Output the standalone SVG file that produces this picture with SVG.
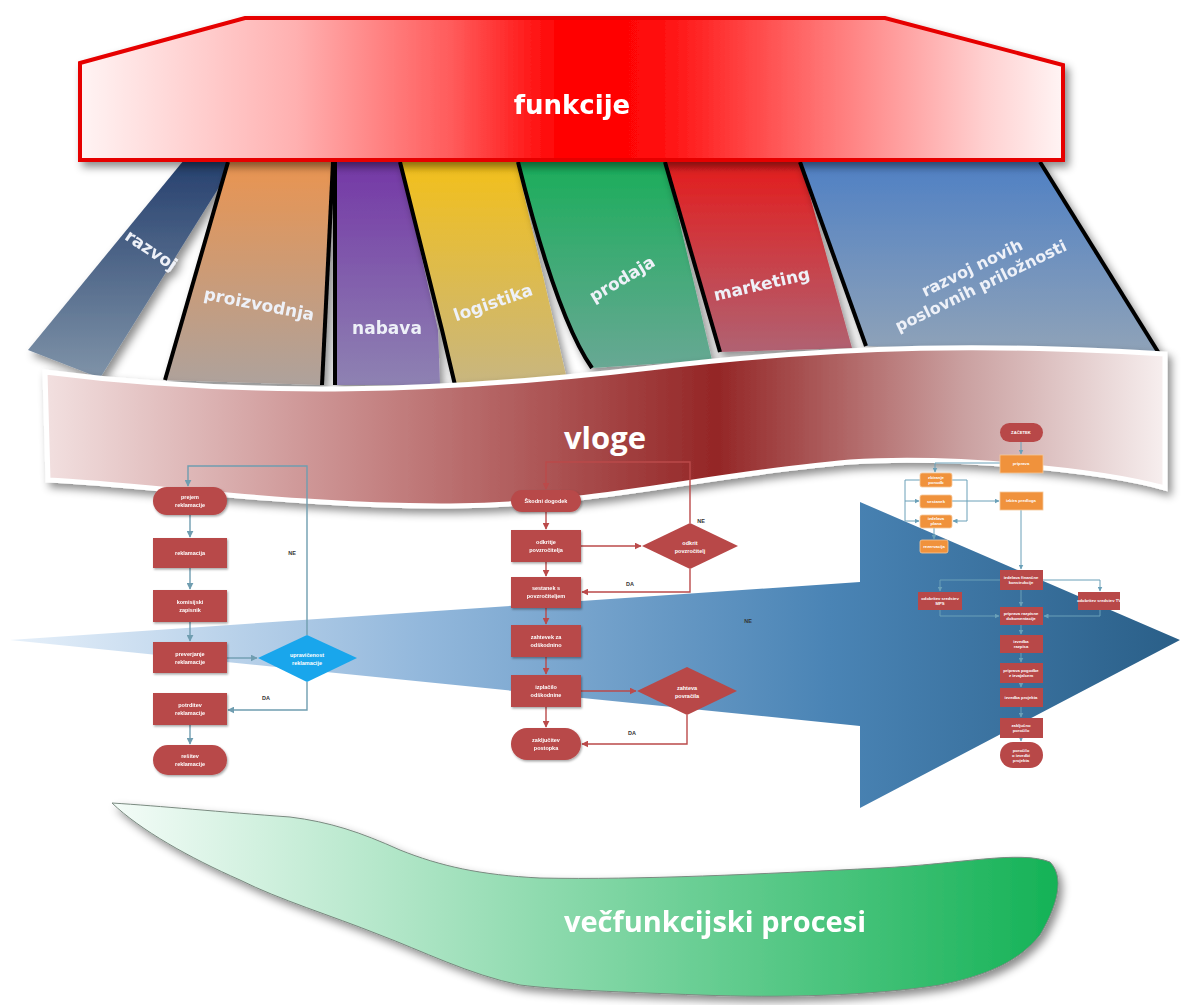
<svg xmlns="http://www.w3.org/2000/svg" width="1185" height="1005" viewBox="0 0 1185 1005">
<style>
.lbl{font-family:"DejaVu Sans",Verdana,sans-serif;font-weight:bold;fill:#eef1f8}
.big{font-family:"Open Sans","DejaVu Sans",sans-serif;font-weight:bold;fill:#fff;text-anchor:middle}
.edge{fill:none;stroke:#000;stroke-width:4;stroke-linejoin:round}
.mr{fill:#b84848}
.or{fill:#f0923c;stroke:#f6c89a;stroke-width:0.8}
.bl{fill:#19a6ec}
.ft{font-family:"Liberation Sans",Arial,sans-serif;font-weight:bold;font-size:5.5px;fill:#fff;text-anchor:middle}
.fs{font-family:"Liberation Sans",Arial,sans-serif;font-weight:bold;font-size:4.2px;fill:#fff;text-anchor:middle}
.lt{font-family:"Liberation Sans",Arial,sans-serif;font-weight:bold;font-size:5.5px;fill:#333}
.ct{fill:none;stroke:#6f9db0;stroke-width:1.4}
.cm{fill:none;stroke:#bb4a4a;stroke-width:1.4}
.cr{fill:none;stroke:#6aa0b8;stroke-width:1}
</style>
<defs>
<filter id="sh" x="-10%" y="-10%" width="130%" height="140%"><feDropShadow dx="4" dy="5" stdDeviation="4" flood-color="#000" flood-opacity="0.45"/></filter>
<filter id="sh2" x="-10%" y="-10%" width="130%" height="140%"><feDropShadow dx="1" dy="1.5" stdDeviation="1" flood-color="#000" flood-opacity="0.35"/></filter>
<linearGradient id="gFunk" x1="80" y1="0" x2="1063" y2="0" gradientUnits="userSpaceOnUse"><stop offset="0" stop-color="#fff4f4"/><stop offset="0.22" stop-color="#ffb0b0"/><stop offset="0.38" stop-color="#ff5a5a"/><stop offset="0.49" stop-color="#ff0000"/><stop offset="0.58" stop-color="#ff0808"/><stop offset="0.75" stop-color="#ff7070"/><stop offset="0.92" stop-color="#ffd0d0"/><stop offset="1" stop-color="#fff4f4"/></linearGradient>
<linearGradient id="c1" x1="0" y1="0" x2="0" y2="1"><stop offset="0" stop-color="#26406e"/><stop offset="1" stop-color="#7f93a8"/></linearGradient>
<linearGradient id="c2" x1="0" y1="0" x2="0" y2="1"><stop offset="0" stop-color="#ea9450"/><stop offset="1" stop-color="#aea29c"/></linearGradient>
<linearGradient id="c3" x1="0" y1="0" x2="0" y2="1"><stop offset="0" stop-color="#7437a6"/><stop offset="1" stop-color="#8e82b2"/></linearGradient>
<linearGradient id="c4" x1="0" y1="0" x2="0" y2="1"><stop offset="0" stop-color="#f3c01a"/><stop offset="1" stop-color="#c8b680"/></linearGradient>
<linearGradient id="c5" x1="0" y1="0" x2="0" y2="1"><stop offset="0" stop-color="#1aad5a"/><stop offset="1" stop-color="#68a894"/></linearGradient>
<linearGradient id="c6" x1="0" y1="0" x2="0" y2="1"><stop offset="0" stop-color="#e41c1c"/><stop offset="1" stop-color="#b06272"/></linearGradient>
<linearGradient id="c7" x1="0" y1="0" x2="0" y2="1"><stop offset="0" stop-color="#4f80c4"/><stop offset="1" stop-color="#90a3b8"/></linearGradient>
<linearGradient id="gVl" x1="45" y1="0" x2="1165" y2="0" gradientUnits="userSpaceOnUse"><stop offset="0" stop-color="#f2e0e0"/><stop offset="0.3" stop-color="#c48282"/><stop offset="0.6" stop-color="#942626"/><stop offset="0.82" stop-color="#caa0a0"/><stop offset="1" stop-color="#f7efef"/></linearGradient>
<linearGradient id="gAr" x1="10" y1="0" x2="1180" y2="0" gradientUnits="userSpaceOnUse"><stop offset="0" stop-color="#e6f0fa"/><stop offset="0.35" stop-color="#93b8dc"/><stop offset="0.7" stop-color="#4a84b5"/><stop offset="1" stop-color="#2a5f88"/></linearGradient>
<linearGradient id="gGr" x1="112" y1="0" x2="1060" y2="0" gradientUnits="userSpaceOnUse"><stop offset="0" stop-color="#f4fcf8"/><stop offset="1" stop-color="#14b256"/></linearGradient>
<marker id="mT" viewBox="0 0 10 10" refX="9" refY="5" markerWidth="5" markerHeight="5" orient="auto"><path d="M0,0 L10,5 L0,10 z" fill="#6f9db0"/></marker>
<marker id="mR" viewBox="0 0 10 10" refX="9" refY="5" markerWidth="5" markerHeight="5" orient="auto"><path d="M0,0 L10,5 L0,10 z" fill="#bb4a4a"/></marker>
<marker id="mB" viewBox="0 0 10 10" refX="9" refY="5" markerWidth="5" markerHeight="5" orient="auto"><path d="M0,0 L10,5 L0,10 z" fill="#6aa0b8"/></marker>
</defs>
<rect width="1185" height="1005" fill="#fff"/>

<!-- function columns -->
<g id="col-razvoj" filter="url(#sh)">
<polygon points="184,160 236,160 100,378 28,350" fill="url(#c1)"/>
<text class="lbl" font-size="17" transform="translate(148,255) rotate(34)" text-anchor="middle">razvoj</text>
</g>
<g id="col-proizvodnja" filter="url(#sh)">
<polygon points="228,160 333,160 322,385 165,380" fill="url(#c2)"/>
<polyline class="edge" points="228,162 165,380"/>
<polyline class="edge" points="333,162 322,385"/>
<text class="lbl" font-size="17" transform="translate(258,310) rotate(11)" text-anchor="middle">proizvodnja</text>
</g>
<g id="col-nabava" filter="url(#sh)">
<polygon points="335,160 400,160 438,330 440,385 335,385" fill="url(#c3)"/>
<polyline class="edge" points="335,162 335,385"/>
<text class="lbl" font-size="17" x="387" y="334" text-anchor="middle" fill="#efeaf8">nabava</text>
</g>
<g id="col-logistika" filter="url(#sh)">
<polygon points="400,160 516,160 566,375 455,385 442,330" fill="url(#c4)"/>
<polyline class="edge" points="400,162 442,330 455,385"/>
<text class="lbl" font-size="17" transform="translate(495,308) rotate(-19)" text-anchor="middle">logistika</text>
</g>
<g id="col-prodaja" filter="url(#sh)">
<path d="M516,160 L665,160 L712,360 L592,368 C565,330 540,250 516,160 Z" fill="url(#c5)"/>
<path class="edge" d="M518,162 C540,250 565,330 592,368"/>
<text class="lbl" font-size="17" transform="translate(625,284) rotate(-31)" text-anchor="middle">prodaja</text>
</g>
<g id="col-marketing" filter="url(#sh)">
<polygon points="665,160 800,160 852,348 720,352" fill="url(#c6)"/>
<polyline class="edge" points="665,162 720,352"/>
<text class="lbl" font-size="17" transform="translate(763,290) rotate(-13)" text-anchor="middle">marketing</text>
</g>
<g id="col-razvoj-novih" filter="url(#sh)">
<polygon points="800,160 1040,160 1160,355 866,346" fill="url(#c7)"/>
<polyline class="edge" points="800,162 866,346"/>
<polyline class="edge" points="1040,162 1160,355"/>
<text class="lbl" font-size="16" transform="translate(978,280) rotate(-26)" text-anchor="middle"><tspan x="0" y="-8">razvoj novih</tspan><tspan x="0" y="12">poslovnih priložnosti</tspan></text>
</g>

<!-- funkcije -->
<g id="funkcije" filter="url(#sh)">
<polygon points="80,63 245,18 885,18 1063,65 1063,160 80,160" fill="url(#gFunk)" stroke="#e60000" stroke-width="4" stroke-linejoin="miter"/>
<text x="572" y="114" font-family="'DejaVu Sans',Verdana,sans-serif" font-weight="bold" font-size="26" fill="#fff" text-anchor="middle">funkcije</text>
</g>

<!-- vloge -->
<g id="vloge">
<path filter="url(#sh)" d="M45,372 C250,398 450,392 650,368 C850,344 1000,344 1165,354 L1165,488 C1100,470 950,455 850,462 C700,475 600,505 450,506 C300,507 150,485 48,480 Z" fill="url(#gVl)" stroke="#fff" stroke-width="5"/>
<text class="big" x="605" y="449" font-size="31">vloge</text>
</g>

<!-- process arrow -->
<g id="arrow">
<polygon points="10,640 860,582 860,502 1180,640 860,808 860,726" fill="url(#gAr)"/>
</g>

<!-- green -->
<g id="vecfunkcijski" filter="url(#sh)">
<path d="M112,803 C160,806 220,812 290,817 C330,822 360,832 400,850 C440,866 480,875 540,878 C640,880 760,874 880,868 C960,864 1020,850 1050,862 C1068,880 1052,915 1040,935 C1020,960 990,975 940,985 C870,996 780,998 700,995 C620,992 560,990 520,985 C470,975 420,950 380,935 C330,915 280,900 240,880 C190,858 140,830 112,803 Z" fill="url(#gGr)" stroke="#7a8a80" stroke-width="1"/>
<text class="big" x="715" y="932" font-size="29">večfunkcijski procesi</text>
</g>

<!-- connectors -->
<g id="connectors">
<path class="ct" d="M190,515 V537" marker-end="url(#mT)"/>
<path class="ct" d="M190,568 V589" marker-end="url(#mT)"/>
<path class="ct" d="M190,622 V641" marker-end="url(#mT)"/>
<path class="ct" d="M190,725 V744" marker-end="url(#mT)"/>
<path class="ct" d="M227,658 H257" marker-end="url(#mT)"/>
<path class="ct" d="M307,635 V466 H188 V486" marker-end="url(#mT)"/>
<path class="ct" d="M307,682 V710 H228" marker-end="url(#mT)"/>

<path class="cm" d="M546,512 V529" marker-end="url(#mR)"/>
<path class="cm" d="M546,562 V576" marker-end="url(#mR)"/>
<path class="cm" d="M546,608 V624" marker-end="url(#mR)"/>
<path class="cm" d="M546,657 V674" marker-end="url(#mR)"/>
<path class="cm" d="M546,707 V727" marker-end="url(#mR)"/>
<path class="cm" d="M581,546 H641" marker-end="url(#mR)"/>
<path class="cm" d="M690,523 V462 H546 V489" marker-end="url(#mR)"/>
<path class="cm" d="M690,569 V592 H582" marker-end="url(#mR)"/>
<path class="cm" d="M581,691 H636" marker-end="url(#mR)"/>
<path class="cm" d="M687,715 V744 H582" marker-end="url(#mR)"/>

<path class="cr" d="M1021,442 V454" marker-end="url(#mB)"/>
<path class="cr" d="M1000,463 H935 V472" marker-end="url(#mB)"/>
<path class="cr" d="M920,480 H905 V521 H919" marker-end="url(#mB)"/>
<path class="cr" d="M905,501 H919" marker-end="url(#mB)"/>
<path class="cr" d="M952,480 H967 V521 H953" marker-end="url(#mB)"/>
<path class="cr" d="M952,501 H999" marker-end="url(#mB)"/>
<path class="cr" d="M934,528 V539" marker-end="url(#mB)"/>
<path class="cr" d="M1021,510 V569" marker-end="url(#mB)"/>
<path class="cr" d="M1000,580 H940 V591" marker-end="url(#mB)"/>
<path class="cr" d="M1043,580 H1100 V591" marker-end="url(#mB)"/>
<path class="cr" d="M940,610 V616 H999" marker-end="url(#mB)"/>
<path class="cr" d="M1100,610 V616 H1044" marker-end="url(#mB)"/>
<path class="cr" d="M1021,590 V606" marker-end="url(#mB)"/>
<path class="cr" d="M1021,625 V634" marker-end="url(#mB)"/>
<path class="cr" d="M1021,653 V662" marker-end="url(#mB)"/>
<path class="cr" d="M1021,683 V687" marker-end="url(#mB)"/>
<path class="cr" d="M1021,707 V717" marker-end="url(#mB)"/>
<path class="cr" d="M1021,738 V741" marker-end="url(#mB)"/>

<text class="lt" x="292" y="555" text-anchor="middle">NE</text>
<text class="lt" x="266" y="700" text-anchor="middle">DA</text>
<text class="lt" x="701" y="523" text-anchor="middle">NE</text>
<text class="lt" x="630" y="586" text-anchor="middle">DA</text>
<text class="lt" x="632" y="735" text-anchor="middle">DA</text>
<text class="lt" x="748" y="623" text-anchor="middle" fill="#1c2c44">NE</text>
</g>

<!-- left flowchart -->
<g id="l-prejem" filter="url(#sh2)"><rect class="mr" x="153" y="487" width="74" height="28" rx="14"/><text class="ft" x="190" y="499">prejem</text><text class="ft" x="190" y="507">reklamacije</text></g>
<g id="l-reklamacija" filter="url(#sh2)"><rect class="mr" x="153" y="538" width="74" height="30"/><text class="ft" x="190" y="555">reklamacija</text></g>
<g id="l-komisijski" filter="url(#sh2)"><rect class="mr" x="153" y="590" width="74" height="32"/><text class="ft" x="190" y="604">komisijski</text><text class="ft" x="190" y="612">zapisnik</text></g>
<g id="l-preverjanje" filter="url(#sh2)"><rect class="mr" x="153" y="642" width="74" height="31"/><text class="ft" x="190" y="656">preverjanje</text><text class="ft" x="190" y="664">reklamacije</text></g>
<g id="l-upravicenost"><polygon class="bl" points="258,658 307,635 357,658 307,682"/><text class="ft" x="307" y="657">upravičenost</text><text class="ft" x="307" y="665">reklamacije</text></g>
<g id="l-potrditev" filter="url(#sh2)"><rect class="mr" x="153" y="693" width="74" height="32"/><text class="ft" x="190" y="707">potrditev</text><text class="ft" x="190" y="715">reklamacije</text></g>
<g id="l-resitev" filter="url(#sh2)"><rect class="mr" x="153" y="745" width="74" height="30" rx="15"/><text class="ft" x="190" y="758">rešitev</text><text class="ft" x="190" y="766">reklamacije</text></g>

<!-- middle flowchart -->
<g id="m-skodni" filter="url(#sh2)"><rect class="mr" x="511" y="490" width="70" height="22" rx="11"/><text class="ft" x="546" y="503">Škodni dogodek</text></g>
<g id="m-odkritje" filter="url(#sh2)"><rect class="mr" x="511" y="530" width="70" height="32"/><text class="ft" x="546" y="544">odkritje</text><text class="ft" x="546" y="552">povzročitelja</text></g>
<g id="m-odkrit"><polygon class="mr" points="642,546 690,523 738,546 690,569"/><text class="ft" x="690" y="545">odkrit</text><text class="ft" x="690" y="553">povzročitelj</text></g>
<g id="m-sestanek" filter="url(#sh2)"><rect class="mr" x="511" y="577" width="70" height="31"/><text class="ft" x="546" y="590">sestanek s</text><text class="ft" x="546" y="598">povzročiteljem</text></g>
<g id="m-zahtevek" filter="url(#sh2)"><rect class="mr" x="511" y="625" width="70" height="32"/><text class="ft" x="546" y="639">zahtevek za</text><text class="ft" x="546" y="647">odškodnino</text></g>
<g id="m-izplacilo" filter="url(#sh2)"><rect class="mr" x="511" y="675" width="70" height="32"/><text class="ft" x="546" y="689">izplačilo</text><text class="ft" x="546" y="697">odškodnine</text></g>
<g id="m-zahteva"><polygon class="mr" points="637,691 687,667 737,691 687,715"/><text class="ft" x="687" y="690">zahteva</text><text class="ft" x="687" y="698">povračila</text></g>
<g id="m-zakljucitev" filter="url(#sh2)"><rect class="mr" x="511" y="728" width="70" height="32" rx="16"/><text class="ft" x="546" y="742">zaključitev</text><text class="ft" x="546" y="750">postopka</text></g>

<!-- right flowchart -->
<g id="r-zacetek"><rect class="mr" x="1000" y="423" width="43" height="19" rx="9.5"/><text class="fs" x="1021" y="434">ZAČETEK</text></g>
<g id="r-priprava"><rect class="or" x="1000" y="455" width="43" height="18"/><text class="fs" x="1021" y="465">priprava</text></g>
<g id="r-b1"><rect class="or" x="920" y="473" width="32" height="14" rx="2"/><text class="fs" x="936" y="479">zbiranje</text><text class="fs" x="936" y="484">ponudb</text></g>
<g id="r-b2"><rect class="or" x="920" y="495" width="32" height="13" rx="2"/><text class="fs" x="936" y="503">sestanek</text></g>
<g id="r-b3"><rect class="or" x="920" y="515" width="32" height="13" rx="2"/><text class="fs" x="936" y="520">izdelava</text><text class="fs" x="936" y="525">plana</text></g>
<g id="r-b4"><rect class="or" x="920" y="540" width="28" height="13" rx="2"/><text class="fs" x="934" y="548">rezervacija</text></g>
<g id="r-izbira"><rect class="or" x="1000" y="492" width="43" height="18"/><text class="fs" x="1021" y="502">izbira predloga</text></g>
<g id="r-a"><rect class="mr" x="1000" y="570" width="43" height="20"/><text class="fs" x="1021" y="579">izdelava finančne</text><text class="fs" x="1021" y="584">konstrukcije</text></g>
<g id="r-left"><rect class="mr" x="918" y="592" width="44" height="18"/><text class="fs" x="940" y="600">odobritev sredstev</text><text class="fs" x="940" y="605">MPS</text></g>
<g id="r-right"><rect class="mr" x="1078" y="592" width="42" height="18"/><text class="fs" x="1099" y="602">odobritev sredstev TV</text></g>
<g id="r-b"><rect class="mr" x="1000" y="607" width="43" height="18"/><text class="fs" x="1021" y="615">priprava razpisne</text><text class="fs" x="1021" y="620">dokumentacije</text></g>
<g id="r-c"><rect class="mr" x="1000" y="635" width="43" height="18"/><text class="fs" x="1021" y="643">izvedba</text><text class="fs" x="1021" y="648">razpisa</text></g>
<g id="r-d"><rect class="mr" x="1000" y="663" width="43" height="20"/><text class="fs" x="1021" y="672">priprava pogodbe</text><text class="fs" x="1021" y="677">z izvajalcem</text></g>
<g id="r-e"><rect class="mr" x="1000" y="688" width="43" height="19"/><text class="fs" x="1021" y="699">izvedba projekta</text></g>
<g id="r-f"><rect class="mr" x="1000" y="718" width="43" height="20"/><text class="fs" x="1021" y="727">zaključno</text><text class="fs" x="1021" y="732">poročilo</text></g>
<g id="r-g"><rect class="mr" x="1000" y="742" width="43" height="26" rx="13"/><text class="fs" x="1021" y="752">poročilo</text><text class="fs" x="1021" y="757">o izvedbi</text><text class="fs" x="1021" y="762">projekta</text></g>
</svg>
